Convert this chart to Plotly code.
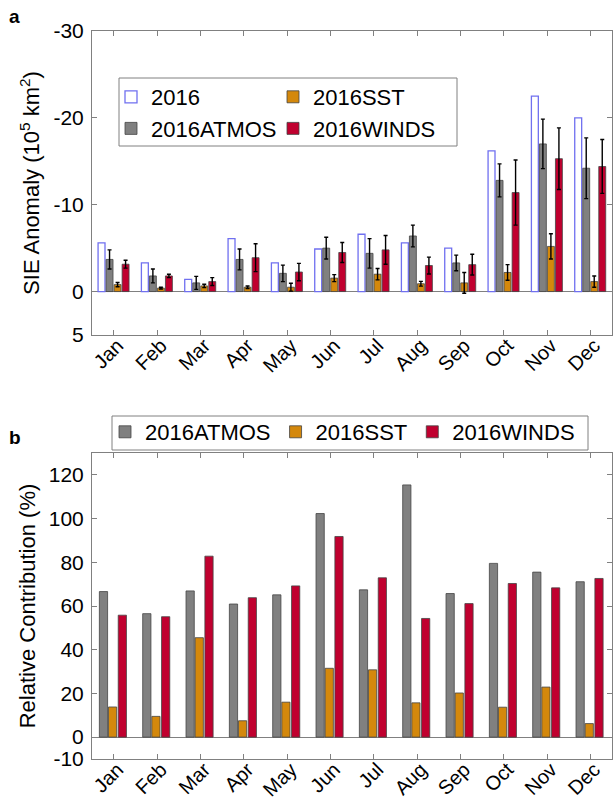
import plotly.graph_objects as go

months = ["Jan", "Feb", "Mar", "Apr", "May", "Jun", "Jul", "Aug", "Sep", "Oct", "Nov", "Dec"]
month_pos = list(range(1, 13))

# Panel a: SIE anomaly (10^5 km^2)
sie_2016 = [-5.6, -3.3, -1.4, -6.1, -3.3, -4.9, -6.6, -5.6, -5.0, -16.2, -22.5, -20.0]
sie_atmos = [-3.7, -1.8, -1.0, -3.7, -2.1, -5.0, -4.4, -6.4, -3.3, -12.8, -17.0, -14.2]
sie_atmos_err = [1.1, 0.8, 0.75, 1.2, 0.95, 1.25, 1.7, 1.25, 0.9, 1.9, 2.85, 3.5]
sie_sst = [-0.8, -0.4, -0.65, -0.5, -0.5, -1.55, -2.0, -0.9, -1.0, -2.2, -5.2, -1.15]
sie_sst_err = [0.25, 0.1, 0.2, 0.15, 0.45, 0.4, 0.65, 0.27, 1.2, 0.9, 1.45, 0.65]
sie_winds = [-3.15, -1.8, -1.15, -3.9, -2.25, -4.5, -4.8, -3.0, -3.1, -11.4, -15.3, -14.4]
sie_winds_err = [0.45, 0.2, 0.45, 1.6, 1.0, 1.15, 1.65, 0.97, 1.2, 3.75, 3.55, 3.1]

# Panel b: relative contribution (%)
rel_atmos = [66.6, 56.5, 66.9, 60.9, 65.1, 102.3, 67.4, 115.4, 65.7, 79.5, 75.5, 71.1]
rel_sst = [13.8, 9.5, 45.5, 7.5, 16.0, 31.5, 30.8, 15.7, 20.2, 13.7, 22.9, 6.2]
rel_winds = [55.8, 55.1, 82.8, 63.8, 69.2, 91.8, 72.9, 54.3, 61.1, 70.3, 68.3, 72.6]

ya_tickvals = [-30, -20, -10, 0, 5]
ya_ticktext = ["-30", "-20", "-10", "0", "5"]
yb_tickvals = [-10, 0, 20, 40, 60, 80, 100, 120]
yb_ticktext = ["-10", "0", "20", "40", "60", "80", "100", "120"]

C_2016 = "#7070f0"
C_ATM = "#808080"
C_SST = "#d4880c"
C_WND = "#c0002f"
EDGE = "#444444"
FONT = "Liberation Sans, Arial, sans-serif"

fig = go.Figure()

def errbar(arr):
    return dict(type="data", array=arr, visible=True, color="black", thickness=1.4, width=2)

# Panel a bars
fig.add_trace(go.Bar(x=month_pos, y=sie_2016, name="2016", width=0.16, offset=-0.36,
                     marker=dict(color="white", line=dict(color=C_2016, width=1.3)),
                     xaxis="x", yaxis="y", legend="legend", legendgroup="a1"))
fig.add_trace(go.Bar(x=month_pos, y=sie_atmos, name="2016ATMOS", width=0.16, offset=-0.175,
                     marker=dict(color=C_ATM, line=dict(color=EDGE, width=0.8)),
                     error_y=errbar(sie_atmos_err),
                     xaxis="x", yaxis="y", legend="legend", legendgroup="a2"))
fig.add_trace(go.Bar(x=month_pos, y=sie_sst, name="2016SST", width=0.16, offset=0.01,
                     marker=dict(color=C_SST, line=dict(color=EDGE, width=0.8)),
                     error_y=errbar(sie_sst_err),
                     xaxis="x", yaxis="y", legend="legend2", legendgroup="a3"))
fig.add_trace(go.Bar(x=month_pos, y=sie_winds, name="2016WINDS", width=0.16, offset=0.195,
                     marker=dict(color=C_WND, line=dict(color=EDGE, width=0.8)),
                     error_y=errbar(sie_winds_err),
                     xaxis="x", yaxis="y", legend="legend2", legendgroup="a4"))

# Panel b bars
fig.add_trace(go.Bar(x=month_pos, y=rel_atmos, name="2016ATMOS", width=0.19, offset=-0.33,
                     marker=dict(color=C_ATM, line=dict(color=EDGE, width=0.8)),
                     xaxis="x2", yaxis="y2", legend="legend3"))
fig.add_trace(go.Bar(x=month_pos, y=rel_sst, name="2016SST", width=0.19, offset=-0.12,
                     marker=dict(color=C_SST, line=dict(color=EDGE, width=0.8)),
                     xaxis="x2", yaxis="y2", legend="legend3"))
fig.add_trace(go.Bar(x=month_pos, y=rel_winds, name="2016WINDS", width=0.19, offset=0.105,
                     marker=dict(color=C_WND, line=dict(color=EDGE, width=0.8)),
                     xaxis="x2", yaxis="y2", legend="legend3"))

axis_common = dict(showline=True, linecolor="#808080", linewidth=1, mirror="allticks",
                   ticks="inside", ticklen=5, tickcolor="#808080", showgrid=False,
                   automargin=False)
yfont = dict(family=FONT, size=21, color="black")
xfont = dict(family=FONT, size=20, color="black")
tfont = dict(family=FONT, size=22, color="black")
lfont = dict(family=FONT, size=22, color="black")

W, H = 615, 800
def px(v):
    return v / W
def py(v):
    return 1 - v / H

xdom = [px(92), px(612)]
fig.update_layout(
    width=W, height=H,
    margin=dict(l=0, r=0, t=0, b=0, autoexpand=False),
    paper_bgcolor="white", plot_bgcolor="white",
    font=dict(family=FONT, color="black"),
    barmode="overlay",
    xaxis=dict(domain=xdom, range=[0.5, 12.5], tickvals=month_pos, ticktext=months,
               tickangle=-45, anchor="y", zeroline=False, tickfont=xfont,
               ticklabelstandoff=-10, ticklabelshift=4, **axis_common),
    yaxis=dict(domain=[py(335), py(31)], range=[5, -30], tickvals=ya_tickvals,
               ticktext=ya_ticktext, anchor="x", zeroline=True, zerolinecolor="#808080",
               zerolinewidth=1, ticklabelstandoff=3, tickfont=yfont,
               title=dict(text="SIE Anomaly (10<sup>5</sup> km<sup>2</sup>)",
                          font=tfont, standoff=7),
               **axis_common),
    xaxis2=dict(domain=xdom, range=[0.5, 12.5], tickvals=month_pos, ticktext=months,
                tickangle=-45, anchor="y2", zeroline=False, tickfont=xfont,
                ticklabelstandoff=-10, ticklabelshift=4, **axis_common),
    yaxis2=dict(domain=[py(759), py(453)], range=[-10, 130], tickvals=yb_tickvals,
                ticktext=yb_ticktext, anchor="x2", zeroline=True, zerolinecolor="#808080",
                zerolinewidth=1, ticklabelstandoff=3, tickfont=yfont,
                title=dict(text="Relative Contribution (%)", font=tfont, standoff=7),
                **axis_common),
    legend=dict(x=px(111), y=py(76), xanchor="left", yanchor="top",
                bgcolor="rgba(0,0,0,0)", borderwidth=0, tracegroupgap=0, font=lfont),
    legend2=dict(x=px(273), y=py(76), xanchor="left", yanchor="top",
                 bgcolor="rgba(0,0,0,0)", borderwidth=0, tracegroupgap=0, font=lfont),
    legend3=dict(x=px(105), y=py(411), xanchor="left", yanchor="top",
                 orientation="h", bgcolor="rgba(0,0,0,0)", borderwidth=0, font=lfont),
    shapes=[
        dict(type="rect", xref="paper", yref="paper", layer="below",
             x0=px(119), x1=px(457), y0=py(146), y1=py(78),
             line=dict(color="#808080", width=1), fillcolor="white"),
        dict(type="rect", xref="paper", yref="paper", layer="below",
             x0=px(112), x1=px(588), y0=py(450), y1=py(416),
             line=dict(color="#808080", width=1), fillcolor="white"),
    ],
    annotations=[
        dict(text="<b>a</b>", x=px(7), y=py(4), xref="paper", yref="paper",
             xanchor="left", yanchor="top", showarrow=False,
             font=dict(family=FONT, size=19, color="black")),
        dict(text="<b>b</b>", x=px(7), y=py(425), xref="paper", yref="paper",
             xanchor="left", yanchor="top", showarrow=False,
             font=dict(family=FONT, size=19, color="black")),
    ],
)

fig.write_html("out.html")
